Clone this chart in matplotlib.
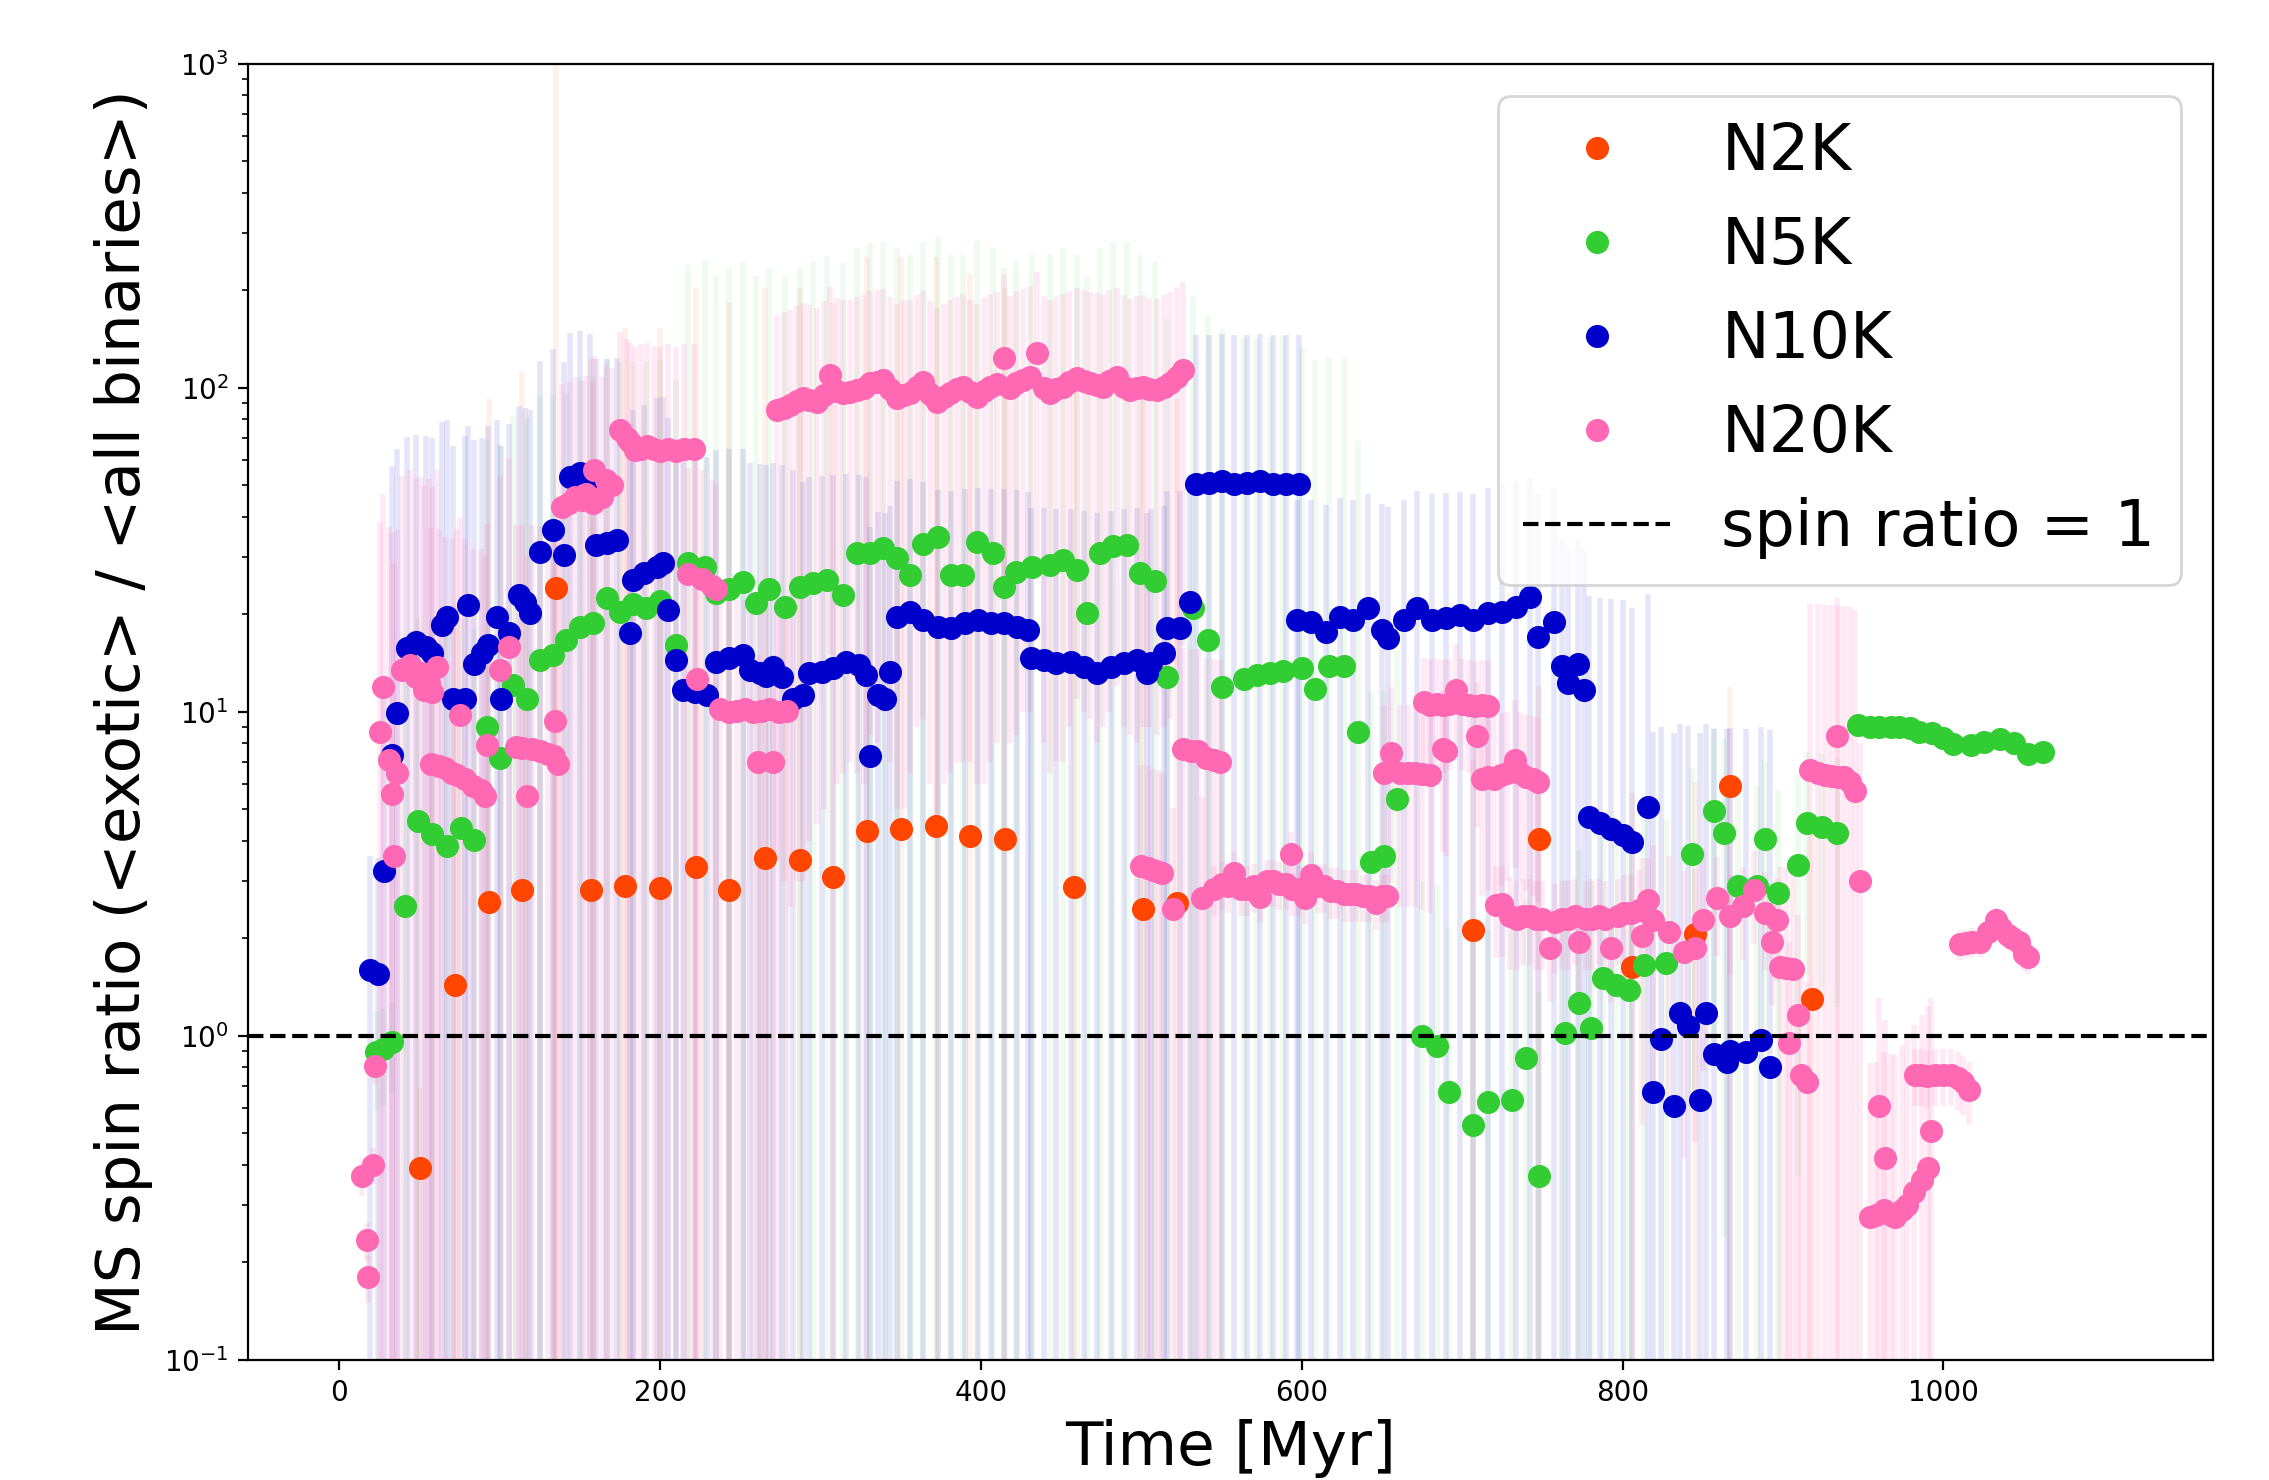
import matplotlib.pyplot as plt

# ---- N2K ----
n2k_t = [50, 72, 93, 114, 135, 157, 178, 200, 222, 243, 265, 287, 308, 329, 350,
         372, 393, 415, 458, 501, 522, 707, 748, 806, 845, 867, 918]
n2k_y = [0.39, 1.44, 2.59, 2.82, 24.1, 2.82, 2.9, 2.86, 3.32, 2.82, 3.54, 3.49, 3.1, 4.3, 4.35,
         4.45, 4.14, 4.06, 2.88, 2.47, 2.57, 2.12, 4.06, 1.63, 2.06, 5.9, 1.3]
n2k_err = [0.3, 20, 90, 110, 1200, 120, 150, 150, 200, 180, 200, 200, 180, 250, 250,
           250, 220, 200, 100, 90, 90, 5, 8, 4, 4, 6, 3]

# ---- N5K ----
n5k_t = [22.5, 27, 33, 41, 49, 57.5, 67, 75.5, 83.6, 92,
         100, 108, 117, 125, 133, 141.5, 150, 158, 166.5, 175,
         183, 191, 200, 210, 217, 228, 235, 243, 251.5, 260,
         268, 278, 287, 295, 304, 314, 322.6, 331, 339, 347.6,
         356, 364, 373, 381, 389, 397.5, 407.5, 414, 422, 432,
         443, 451, 460, 466, 474, 482, 491, 499, 508.5, 516,
         532, 541.6, 550, 564, 572, 580, 588, 600, 608.5, 617,
         626.5, 635, 643, 651.5, 659.5, 675, 684, 692, 707, 716,
         731, 739.5, 748, 764, 772.5, 780, 788, 796, 804, 813,
         827, 843, 857, 863, 872, 883.5, 889, 897, 909, 915,
         924, 933.5, 946.6, 954, 960, 967, 972, 979, 985, 993,
         1000, 1006, 1017, 1025, 1035, 1044, 1053, 1062]
n5k_y = [0.89, 0.91, 0.96, 2.52, 4.6, 4.2, 3.86, 4.39, 4.03, 9.0,
         7.2, 12.1, 11.0, 14.5, 15.0, 16.7, 18.3, 18.8, 22.5, 20.4,
         21.5, 21.0, 22.0, 16.1, 28.8, 28.0, 23.3, 24.0, 25.2, 21.7,
         24.0, 21.1, 24.3, 25.0, 25.5, 23.0, 31.0, 31.0, 32.0, 29.9,
         26.5, 33.0, 34.7, 26.5, 26.5, 33.4, 31.0, 24.3, 27.0, 28.0,
         28.5, 29.5, 27.4, 20.2, 31.0, 32.5, 32.8, 26.8, 25.3, 12.8,
         20.9, 16.7, 11.9, 12.6, 13.0, 13.2, 13.4, 13.7, 11.8, 13.9,
         13.9, 8.7, 3.45, 3.6, 5.4, 1.0, 0.93, 0.67, 0.53, 0.625,
         0.635, 0.855, 0.37, 1.02, 1.26, 1.06, 1.51, 1.44, 1.39, 1.66,
         1.68, 3.65, 4.95, 4.24, 2.9, 2.9, 4.06, 2.76, 3.37, 4.54,
         4.42, 4.23, 9.12, 9.0, 9.0, 9.0, 9.0, 8.9, 8.7, 8.6,
         8.3, 7.95, 7.9, 8.1, 8.25, 8.0, 7.4, 7.55]
n5k_err = [0.3, 0.3, 0.3, 12, 15, 15, 14, 15, 14,
           60, 60, 70, 70, 80, 80, 80, 90, 90, 100, 100, 100, 100, 100, 90,
           210, 220, 200, 210, 220, 200, 210, 200, 210, 220,
           230, 220, 240, 250, 250, 240, 230, 250, 260, 230,
           230, 250, 240, 210, 220, 230, 230, 240, 230, 200,
           240, 250, 250, 230, 220, 150,
           170, 150, 140, 130, 130, 130, 130, 120, 110, 110, 110, 60,
           8, 8, 10,
           2, 2, 1.5, 1.5, 1.5, 1.5, 1.8, 1, 2, 2.5, 2, 3, 3, 3, 3, 3,
           3, 4, 4, 3, 3, 3, 3, 3, 3, 3, 3,
           0.3, 0.3, 0.3, 0.3, 0.3, 0.3, 0.3, 0.3, 0.3, 0.3, 0.3, 0.3, 0.3, 0.3, 0.3, 0.3]

# ---- N10K ----
n10k_t = [19, 24, 28, 33, 36, 42, 48, 54, 58, 64,
          67, 70.5, 78, 80, 84, 88.6, 92.5, 98, 101, 106,
          112, 115.4, 118.6, 125, 133, 140, 143.5, 150, 156, 160,
          166.5, 173, 181, 183, 190, 198, 202, 205, 210, 214,
          221.5, 229, 235, 243, 251.5, 256, 262, 266, 270, 276,
          283, 289, 293, 301, 308, 316, 324, 328, 331, 336,
          340, 343, 347.6, 356, 364, 373, 381, 389.7, 398, 406,
          414, 422.6, 429, 431, 439, 447, 456, 464, 472, 481,
          489, 497, 503.5, 506, 514, 516, 524, 530, 534, 542,
          550, 558, 566, 574, 582, 590, 598, 597, 606, 615,
          624, 632, 641.5, 650, 654, 663.6, 672, 681, 690, 698.6,
          707, 716, 725, 733.6, 742.4, 747, 757.5, 762, 766, 772,
          776, 779, 786, 793, 800, 806, 815.5, 819, 824, 832,
          836, 841, 848, 852, 857, 865, 867, 877, 886, 892]
n10k_y = [1.6, 1.55, 3.23, 7.35, 9.9, 15.8, 16.4, 15.9, 15.2, 18.6,
          19.6, 11, 11, 21.4, 14.1, 15.2, 16.1, 19.6, 11, 17.5,
          23, 21.9, 20.2, 31.2, 36.5, 30.5, 53, 54.7, 52, 32.7,
          33.2, 33.9, 17.5, 25.5, 26.9, 28, 28.8, 20.6, 14.5, 11.7,
          11.5, 11.3, 14.3, 14.7, 15, 13.5, 13.2, 12.9, 13.8, 12.8,
          11, 11.3, 13.2, 13.3, 13.7, 14.3, 14, 13, 7.3, 11.3,
          11, 13.3, 19.6, 20.4, 19.2, 18.3, 18.2, 18.8, 19.2, 18.8,
          18.8, 18.3, 17.9, 14.7, 14.5, 14.2, 14.3, 13.8, 13.2, 13.8,
          14.2, 14.5, 13.2, 14.2, 15.2, 18.2, 18.2, 21.9, 50.5, 51,
          51.5, 50.5, 51, 51.5, 50.5, 50.5, 50.5, 19.2, 19, 17.6,
          19.6, 19.2, 21, 17.9, 16.9, 19.2, 21, 19.2, 19.5, 19.9,
          19.2, 20.2, 20.4, 21.1, 22.6, 17, 19, 13.9, 12.3, 14.1,
          11.7, 4.74, 4.54, 4.35, 4.17, 3.97, 5.1, 0.67, 0.98, 0.61,
          1.18, 1.07, 0.635, 1.18, 0.88, 0.83, 0.9, 0.89, 0.97, 0.8]
n10k_err = [2, 2, 8, 50, 55,
            55, 55, 55, 55, 60, 60, 55, 60, 55, 55, 55, 60, 60, 55, 60, 65, 65, 65,
            90, 95, 90, 95, 95, 95, 90, 90, 90,
            60, 60, 62, 65, 65, 60, 55, 50, 50, 50, 50, 50, 50, 45, 45,
            45, 45, 45, 45, 40, 40, 40, 40, 40, 40, 40,
            30, 30, 30, 30, 32, 32, 32, 30, 30, 30, 30, 30, 30, 30, 30,
            28, 28, 28, 28, 28, 28, 28, 28, 28, 28, 28, 28, 30, 30, 32,
            95, 95, 95, 95, 95, 95, 95, 95, 95,
            26, 26, 26, 26, 26, 26, 26, 26, 26, 27, 28, 28, 28, 28, 29, 30,
            30, 30, 30, 30, 20, 20, 20, 20,
            18, 18, 18, 18, 17, 18,
            8, 8, 8, 8, 8, 8, 8, 8, 8, 8, 8, 8, 8]

# ---- N20K ----
n20k_t = [14, 17, 18, 21, 22,
          25, 27, 31, 33, 34, 36,
          39, 44, 48, 51, 53, 56, 58, 61,
          57, 62, 66, 70, 73, 78, 83, 88, 91,
          75, 92, 100, 106,
          110, 114, 117, 120, 125, 130, 134, 134.5, 136,
          139, 143, 147, 151, 154, 158, 159, 164, 166, 170,
          175, 179, 181, 184, 188, 192, 196, 200, 205, 210, 215, 221,
          217, 223, 226, 232, 235,
          237, 243, 248, 253, 258, 263, 268, 274, 279, 261, 270,
          272.5, 277, 281, 285, 289, 293, 297.5, 302, 306, 310,
          314, 318, 322.6, 327, 331, 335, 339, 343, 347.6, 352,
          356, 360, 364, 368, 372.5, 377, 380.6, 385, 389, 393,
          397.5, 402, 405.6, 410, 414, 418, 422, 426, 430.6, 435,
          439, 443, 447, 451, 455, 459.6, 464, 468, 472, 476,
          480, 484.6, 489, 493, 497, 501, 505, 509.6, 514, 518,
          522, 526,
          526, 531, 535, 540, 545, 549,
          500, 504, 507, 511, 513, 519.5, 538,
          545, 550, 554, 558, 562, 566, 570, 574, 578, 582,
          586, 590, 593, 594, 598, 602, 606, 610, 614, 618,
          622, 626, 630, 634, 638, 642, 646, 650, 653,
          651, 655.6, 661, 666, 670.6, 675, 680,
          676, 680, 684, 688, 692, 696, 700, 704, 708, 712, 716, 688, 690, 709,
          712, 716, 720, 724, 728, 733, 736, 740, 744, 747,
          721, 725, 730, 734, 738, 742, 746, 750, 755, 758,
          762, 766, 770, 773, 777, 781, 785, 789, 793, 797,
          801, 805, 810, 815.6,
          812, 819, 828.6, 838, 845, 850, 859, 867, 875, 882, 889, 896, 893,
          898, 902, 906, 909, 904, 911, 915,
          917, 921.6, 926, 930, 934, 938, 942, 945, 933.5, 948,
          954, 958, 960, 963, 963.5, 967, 970, 974, 977, 981.5, 986.5, 990.5, 992,
          982, 986, 990, 995, 1000, 1005, 1009, 1012, 1016,
          1010, 1014, 1018, 1023, 1028, 1033, 1036, 1040, 1043, 1047, 1050, 1053]
n20k_y = [0.37, 0.235, 0.18, 0.40, 0.81,
          8.7, 11.9, 7.1, 5.6, 3.6, 6.5,
          13.5, 14.0, 12.8, 13.2, 11.7, 12.3, 11.5, 13.8,
          6.9, 6.8, 6.7, 6.5, 6.4, 6.2, 5.9, 5.75, 5.5,
          9.8, 7.9, 13.5, 15.9,
          7.8, 7.75, 5.5, 7.7, 7.6, 7.4, 7.3, 9.4, 6.9,
          42.8, 44, 46, 45, 47, 44, 55.8, 46, 52, 50,
          74, 70, 68, 64.5, 65, 66, 65, 64, 65, 64, 65, 65,
          26.6, 12.6, 25.7, 24.5, 23.9,
          10.2, 10.0, 10.1, 10.2, 10.0, 10.1, 10.2, 10.0, 10.1, 7.0, 7.0,
          85.5, 87, 88.5, 91, 93, 92, 90.5, 95, 110, 98,
          96.5, 97, 98.5, 100, 103.5, 104, 106, 99, 93, 95,
          96.5, 101, 104.5, 96, 90.5, 94, 96.5, 99, 101, 97,
          94, 98, 101, 103, 124, 100, 103.5, 106, 108, 128,
          100, 96.5, 99, 101, 104, 107, 105, 103.5, 102, 101,
          105, 108, 101, 98.5, 100, 101, 99, 98.5, 101, 103.5,
          108, 114,
          7.7, 7.6, 7.6, 7.2, 7.1, 7.0,
          3.35, 3.3, 3.25, 3.2, 3.18, 2.47, 2.67,
          2.85, 2.95, 2.9, 3.18, 2.85, 2.85, 2.9, 2.69, 3.0, 3.0,
          2.95, 2.95, 3.65, 2.85, 2.85, 2.66, 3.14, 2.9, 2.9, 2.8,
          2.8, 2.75, 2.75, 2.75, 2.7, 2.7, 2.57, 2.7, 2.7,
          6.5, 7.46, 6.5, 6.5, 6.5, 6.45, 6.4,
          10.7, 10.5, 10.6, 10.5, 10.6, 11.7, 10.6, 10.5, 10.4, 10.5, 10.4, 7.7, 7.6, 8.4,
          6.2, 6.3, 6.2, 6.4, 6.5, 7.1, 6.5, 6.3, 6.2, 6.1,
          2.54, 2.55, 2.35, 2.3, 2.35, 2.35, 2.3, 2.3, 1.87, 2.25,
          2.3, 2.3, 2.35, 1.95, 2.3, 2.3, 2.35, 2.3, 1.87, 2.35,
          2.4, 2.4, 2.45, 2.63,
          2.03, 2.28, 2.1, 1.82, 1.87, 2.28, 2.67, 2.35, 2.52, 2.82, 2.4, 2.28, 1.95,
          1.63, 1.62, 1.61, 1.16, 0.95, 0.76, 0.72,
          6.6, 6.5, 6.4, 6.35, 6.3, 6.3, 6.1, 5.7, 8.4, 3.0,
          0.276, 0.28, 0.61, 0.29, 0.42, 0.28, 0.276, 0.29, 0.30, 0.33, 0.36, 0.39, 0.51,
          0.76, 0.76, 0.75, 0.76, 0.76, 0.76, 0.74, 0.72, 0.68,
          1.92, 1.93, 1.95, 1.95, 2.1, 2.28, 2.15, 2.05, 2.0, 1.95, 1.79, 1.75]
n20k_err = [0.05, 0.03, 0.03, 0.05, 0.1,
            30, 35, 30, 30, 25, 30,
            40, 42, 40, 40, 38, 40, 38, 42,
            30, 30, 28, 28, 30, 28, 26, 26, 25,
            30, 30, 40, 45,
            30, 30, 25, 30, 30, 30, 30, 30, 28,
            60, 60, 62, 60, 62, 60, 70, 62, 66, 65,
            75, 72, 70, 70, 72, 72, 70, 70, 72, 70, 72, 72,
            30, 14, 30, 28, 27,
            12, 12, 12, 12, 12, 12, 12, 12, 12, 8, 8,
            82, 84, 86, 88, 90, 88, 86, 90, 95, 92,
            90, 90, 92, 94, 95, 96, 96, 92, 88, 90,
            90, 92, 95, 90, 86, 88, 90, 92, 94, 90,
            88, 92, 94, 95, 100, 92, 95, 96, 98, 100,
            92, 90, 92, 94, 95, 96, 95, 94, 94, 92,
            95, 96, 92, 90, 92, 92, 90, 90, 92, 94,
            95, 98,
            8, 8, 8, 7.5, 7.5, 7.5,
            3.5, 3.5, 3.4, 3.4, 3.3, 2.6, 2.8,
            0.5, 0.5, 0.5, 0.55, 0.5, 0.5, 0.5, 0.45, 0.5, 0.5,
            0.5, 0.5, 0.6, 0.5, 0.5, 0.45, 0.55, 0.5, 0.5, 0.5,
            0.5, 0.5, 0.5, 0.5, 0.45, 0.45, 0.45, 0.45, 0.45,
            4, 4.5, 4, 4, 4, 4, 4,
            4, 4, 4, 4, 4, 4.5, 4, 4, 4, 4, 4, 4, 4, 4,
            3.5, 3.5, 3.5, 3.5, 3.5, 3.8, 3.5, 3.5, 3.5, 3.5,
            0.8, 0.8, 0.75, 0.7, 0.7, 0.7, 0.7, 0.7, 0.6, 0.7,
            0.7, 0.7, 0.7, 0.6, 0.7, 0.7, 0.7, 0.7, 0.6, 0.7,
            0.75, 0.75, 0.8, 0.9,
            1.5, 1.6, 1.5, 1.4, 1.4, 1.5, 0.9, 0.8, 0.8, 0.9, 0.8, 0.8, 0.7,
            1.7, 1.7, 1.7, 1.2, 1.0, 0.8, 0.75,
            15, 15, 15, 15, 15, 15, 15, 15, 14, 5,
            0.55, 0.55, 0.7, 0.6, 0.7, 0.6, 0.6, 0.65, 0.7, 0.75, 0.8, 0.85, 0.8,
            0.15, 0.15, 0.15, 0.15, 0.15, 0.15, 0.15, 0.15, 0.15,
            0.2, 0.2, 0.2, 0.2, 0.2, 0.2, 0.2, 0.2, 0.2, 0.2, 0.2, 0.2]

# label, times, ratios, errors, colour, error-bar alpha
series = [
    ("N2K", n2k_t, n2k_y, n2k_err, "orangered", 0.08),
    ("N5K", n5k_t, n5k_y, n5k_err, "limegreen", 0.08),
    ("N10K", n10k_t, n10k_y, n10k_err, "mediumblue", 0.1),
    ("N20K", n20k_t, n20k_y, n20k_err, "hotpink", 0.14),
]

fig = plt.figure(figsize=(11.345, 7.40), dpi=200)
ax = fig.add_axes([0.1093, 0.0811, 0.866, 0.8757])
ax.set_yscale("log")

# faint error bars first, markers on top
for label, t, y, err, c, a in series:
    ax.errorbar(t, y, yerr=err, fmt="none", ecolor=c, elinewidth=2,
                alpha=a, zorder=1)
for label, t, y, err, c, a in series:
    ax.plot(t, y, "o", color=c, ms=7.3, label=label, zorder=3)

ax.axhline(1, color="k", ls="--", lw=1.5, label="spin ratio = 1", zorder=4)

ax.set_ylim(0.1, 1000)
ax.set_xlim(-57, 1168)
ax.set_xlabel("Time [Myr]", fontsize=22)
ax.set_ylabel("MS spin ratio (<exotic> / <all binaries>)", fontsize=22)
ax.legend(fontsize=23, loc="upper right", handlelength=2.3)

fig.savefig("out.png", dpi=200)
